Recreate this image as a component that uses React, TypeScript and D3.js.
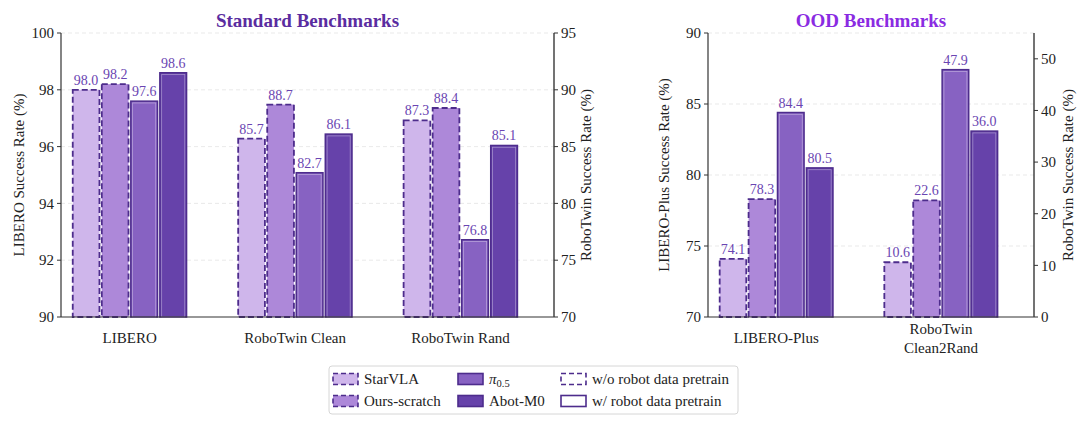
import React from 'react';
import * as d3 from 'd3';

const series = ['StarVLA', 'Ours-scratch', 'π0.5', 'Abot-M0'];
const fills = ['#cfb6eb', '#ad88d9', '#8762c2', '#6642aa'];
const dashed = [true, true, false, false];

const stdCategories = ['LIBERO', 'RoboTwin Clean', 'RoboTwin Rand'];
const stdAxisSide = ['left', 'right', 'right'];
const stdValues = [
  [98.0, 98.2, 97.6, 98.6],
  [85.7, 88.7, 82.7, 86.1],
  [87.3, 88.4, 76.8, 85.1],
];
const stdLeftTicks = [90, 92, 94, 96, 98, 100];
const stdRightTicks = [70, 75, 80, 85, 90, 95];

const oodCategories = ['LIBERO-Plus', 'RoboTwin\nClean2Rand'];
const oodAxisSide = ['left', 'right'];
const oodValues = [
  [74.1, 78.3, 84.4, 80.5],
  [10.6, 22.6, 47.9, 36.0],
];
const oodLeftTicks = [70, 75, 80, 85, 90];
const oodRightTicks = [0, 10, 20, 30, 40, 50];

const EDGE = '#4d2c8c';
const LABEL = '#6a45b2';
const FONT = '"Liberation Serif", "Times New Roman", Times, serif';

interface PanelProps {
  title: string;
  titleColor: string;
  x0: number;
  x1: number;
  categories: string[];
  sides: string[];
  values: number[][];
  leftDomain: [number, number];
  rightDomain: [number, number];
  leftTicks: number[];
  rightTicks: number[];
  leftLabel: string;
  rightLabel: string;
  leftLabelX: number;
  rightLabelX: number;
}

function Panel(p: PanelProps) {
  const top = 33;
  const bottom = 317;
  const n = p.categories.length;
  const x = d3.scaleLinear().domain([-0.415, n - 1 + 0.565]).range([p.x0, p.x1]);
  const yL = d3.scaleLinear().domain(p.leftDomain).range([bottom, top]);
  const yR = d3.scaleLinear().domain(p.rightDomain).range([bottom, top]);
  const inner = d3.scaleBand<number>().domain(d3.range(series.length)).range([-0.344, 0.344]).paddingInner(0.08);
  const mid = (top + bottom) / 2;

  return (
    <g fontFamily={FONT}>
      {/* grid from the left axis ticks */}
      {p.leftTicks.filter(t => t !== p.leftDomain[0]).map(t => (
        <line key={'g' + t} x1={p.x0} x2={p.x1} y1={yL(t)} y2={yL(t)}
          stroke="#e3e3e3" strokeWidth={0.8} strokeDasharray="4,3" />
      ))}

      {p.values.map((vals, ci) => {
        const y = p.sides[ci] === 'left' ? yL : yR;
        return vals.map((v, si) => {
          const bx = x(ci + inner(si)!);
          const bw = x(inner.bandwidth()) - x(0);
          const by = y(v);
          const bh = bottom - by;
          return (
            <g key={ci + '-' + si}>
              <rect x={bx} y={by} width={bw} height={bh} fill={fills[si]}
                stroke={EDGE} strokeWidth={dashed[si] ? 1.8 : 1.5}
                strokeDasharray={dashed[si] ? '6,3' : undefined} />
              {!dashed[si] && (
                <rect x={bx + 1.8} y={by + 1.8} width={bw - 3.6} height={bh - 1.8}
                  fill="none" stroke="#ffffff" strokeOpacity={0.4} strokeWidth={0.8} />
              )}
              <text x={bx + bw / 2} y={by - 5} textAnchor="middle" fontSize={14} fill={LABEL}>
                {v.toFixed(1)}
              </text>
            </g>
          );
        });
      })}

      {/* spines */}
      <line x1={p.x0} x2={p.x1} y1={bottom} y2={bottom} stroke="#333" strokeWidth={1.2} />
      <line x1={p.x0} x2={p.x0} y1={top} y2={bottom} stroke="#333" strokeWidth={1.2} />
      <line x1={p.x1} x2={p.x1} y1={top} y2={bottom} stroke="#444" strokeWidth={1.5} />

      {p.leftTicks.map(t => (
        <g key={'l' + t} transform={`translate(${p.x0},${yL(t)})`}>
          <line x1={-4} x2={0} stroke="#333" strokeWidth={1} />
          <text x={-7} dy="0.35em" textAnchor="end" fontSize={15} fill="#222">{t}</text>
        </g>
      ))}
      {p.rightTicks.map(t => (
        <g key={'r' + t} transform={`translate(${p.x1},${yR(t)})`}>
          <line x1={0} x2={4} stroke="#333" strokeWidth={1} />
          <text x={7} dy="0.35em" textAnchor="start" fontSize={15} fill="#222">{t}</text>
        </g>
      ))}

      {p.categories.map((c, ci) => {
        const lines = c.split('\n');
        return (
          <text key={c} x={x(ci)} textAnchor="middle" fontSize={15} fill="#222">
            {lines.map((ln, li) => (
              <tspan key={li} x={x(ci)} y={(lines.length > 1 ? 334 : 343) + li * 19}>{ln}</tspan>
            ))}
          </text>
        );
      })}

      <text transform={`translate(${p.leftLabelX},${mid}) rotate(-90)`} textAnchor="middle"
        dy="0.35em" fontSize={15} fill="#222">{p.leftLabel}</text>
      <text transform={`translate(${p.rightLabelX},${mid}) rotate(-90)`} textAnchor="middle"
        dy="0.35em" fontSize={15} fill="#222">{p.rightLabel}</text>

      <text x={(p.x0 + p.x1) / 2} y={27} textAnchor="middle" fontSize={19} fontWeight="bold"
        fill={p.titleColor}>{p.title}</text>
    </g>
  );
}

function LegendPatch({ x, y, fill, dash }: { x: number; y: number; fill: string; dash: boolean }) {
  return (
    <rect x={x} y={y - 5.5} width={25} height={11} fill={fill} stroke={EDGE}
      strokeWidth={1.6} strokeDasharray={dash ? '5,3' : undefined} />
  );
}

function Legend() {
  const rows = [379, 401];
  const cols = [333, 458, 561];
  return (
    <g fontFamily={FONT} fontSize={15} fill="#222">
      <rect x={329} y={366} width={409} height={48} rx={3} fill="#fff" stroke="#d6d6d6" strokeWidth={1} />
      {series.map((s, i) => {
        const cx = cols[Math.floor(i / 2)];
        const cy = rows[i % 2];
        return (
          <g key={s}>
            <LegendPatch x={cx} y={cy} fill={fills[i]} dash={dashed[i]} />
            <text x={cx + 31} y={cy} dy="0.35em">
              {s === 'π0.5'
                ? <><tspan fontStyle="italic">π</tspan><tspan fontSize={10.5} dy="3">0.5</tspan></>
                : s}
            </text>
          </g>
        );
      })}
      <LegendPatch x={cols[2]} y={rows[0]} fill="#fff" dash={true} />
      <text x={cols[2] + 31} y={rows[0]} dy="0.35em">w/o robot data pretrain</text>
      <LegendPatch x={cols[2]} y={rows[1]} fill="#fff" dash={false} />
      <text x={cols[2] + 31} y={rows[1]} dy="0.35em">w/ robot data pretrain</text>
    </g>
  );
}

export default function App() {
  return (
    <svg width={1080} height={424} style={{ position: 'absolute', left: 0, top: 0, background: '#fff' }}>
      <rect width={1080} height={424} fill="#fff" />
      <Panel title="Standard Benchmarks" titleColor="#5a2ca0" x0={61} x1={554}
        categories={stdCategories} sides={stdAxisSide} values={stdValues}
        leftDomain={[90, 100]} rightDomain={[70, 95]}
        leftTicks={stdLeftTicks} rightTicks={stdRightTicks}
        leftLabel="LIBERO Success Rate (%)" rightLabel="RoboTwin Success Rate (%)"
        leftLabelX={19} rightLabelX={586} />
      <Panel title="OOD Benchmarks" titleColor="#8a2be2" x0={708} x1={1034}
        categories={oodCategories} sides={oodAxisSide} values={oodValues}
        leftDomain={[70, 90]} rightDomain={[0, 55]}
        leftTicks={oodLeftTicks} rightTicks={oodRightTicks}
        leftLabel="LIBERO-Plus Success Rate (%)" rightLabel="RoboTwin Success Rate (%)"
        leftLabelX={664} rightLabelX={1068} />
      <Legend />
    </svg>
  );
}
